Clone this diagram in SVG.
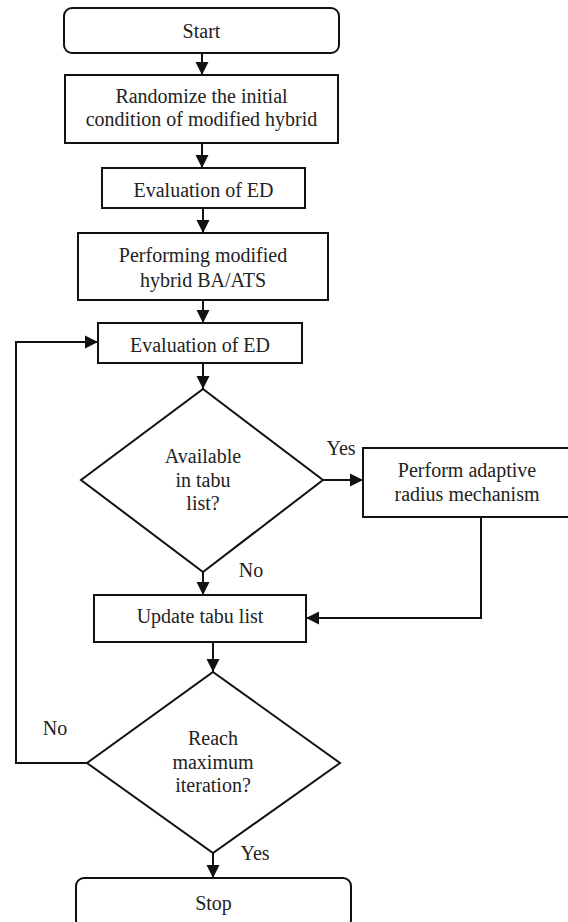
<svg xmlns="http://www.w3.org/2000/svg" width="568" height="922" viewBox="0 0 568 922">
<style>
.box{fill:#fff;stroke:#111;stroke-width:2}
.t{font-family:'Liberation Serif','Tinos','Times New Roman','DejaVu Serif',serif;font-size:20px;fill:#222;text-anchor:middle}
.c{fill:none;stroke:#111;stroke-width:2}
</style>
<defs>
<marker id="ah" markerUnits="userSpaceOnUse" markerWidth="14" markerHeight="14" refX="13" refY="7" orient="auto">
<path d="M0,0.5 L13,7 L0,13.5 z" fill="#111"/>
</marker>
</defs>
<rect width="568" height="922" fill="#fff"/>
<g id="connectors">
<path class="c" d="M202,53 V75" marker-end="url(#ah)"/>
<path class="c" d="M202,143 V168" marker-end="url(#ah)"/>
<path class="c" d="M203,208 V233" marker-end="url(#ah)"/>
<path class="c" d="M203,300 V323" marker-end="url(#ah)"/>
<path class="c" d="M203,363 V389" marker-end="url(#ah)"/>
<path class="c" d="M323,480 H363" marker-end="url(#ah)"/>
<path class="c" d="M203,572 V595" marker-end="url(#ah)"/>
<path class="c" d="M481,517 V618 H306" marker-end="url(#ah)"/>
<path class="c" d="M213,642 V672" marker-end="url(#ah)"/>
<path class="c" d="M213,853 V878" marker-end="url(#ah)"/>
<path class="c" d="M87,763 H16 V342 H98" marker-end="url(#ah)"/>
<text class="t" x="341" y="455" font-family="Liberation Serif, serif">Yes</text>
<text class="t" x="251" y="577" font-family="Liberation Serif, serif">No</text>
<text class="t" x="55" y="735" font-family="Liberation Serif, serif">No</text>
<text class="t" x="255" y="860" font-family="Liberation Serif, serif">Yes</text>
</g>
<g id="start">
<rect class="box" x="64" y="8" width="275" height="45" rx="8"/>
<text class="t" x="201.5" y="38">Start</text>
</g>
<g id="randomize">
<rect class="box" x="65" y="75" width="273" height="68"/>
<text class="t" x="201.5" y="103">Randomize the initial</text>
<text class="t" x="201.5" y="126">condition of modified hybrid</text>
</g>
<g id="eval1">
<rect class="box" x="102" y="168" width="203" height="40"/>
<text class="t" x="203.5" y="197">Evaluation of ED</text>
</g>
<g id="performing">
<rect class="box" x="78" y="233" width="250" height="67"/>
<text class="t" x="203" y="262">Performing modified</text>
<text class="t" x="203" y="287">hybrid BA/ATS</text>
</g>
<g id="eval2">
<rect class="box" x="98" y="323" width="204" height="40"/>
<text class="t" x="200" y="352">Evaluation of ED</text>
</g>
<g id="available">
<polygon class="box" points="203,389 323,480 203,572 81,480"/>
<text class="t" x="203" y="463">Available</text>
<text class="t" x="203" y="487">in tabu</text>
<text class="t" x="203" y="510">list?</text>
</g>
<g id="adaptive">
<rect class="box" x="363" y="448" width="208" height="69"/>
<text class="t" x="467" y="477">Perform adaptive</text>
<text class="t" x="467" y="501">radius mechanism</text>
</g>
<g id="update">
<rect class="box" x="94" y="595" width="212" height="47"/>
<text class="t" x="200" y="623">Update tabu list</text>
</g>
<g id="reach">
<polygon class="box" points="213,672 340,763 213,853 87,763"/>
<text class="t" x="213" y="745">Reach</text>
<text class="t" x="213" y="769">maximum</text>
<text class="t" x="213" y="792">iteration?</text>
</g>
<g id="stop">
<rect class="box" x="76" y="878" width="275" height="50" rx="8"/>
<text class="t" x="213.5" y="910">Stop</text>
</g>
</svg>
